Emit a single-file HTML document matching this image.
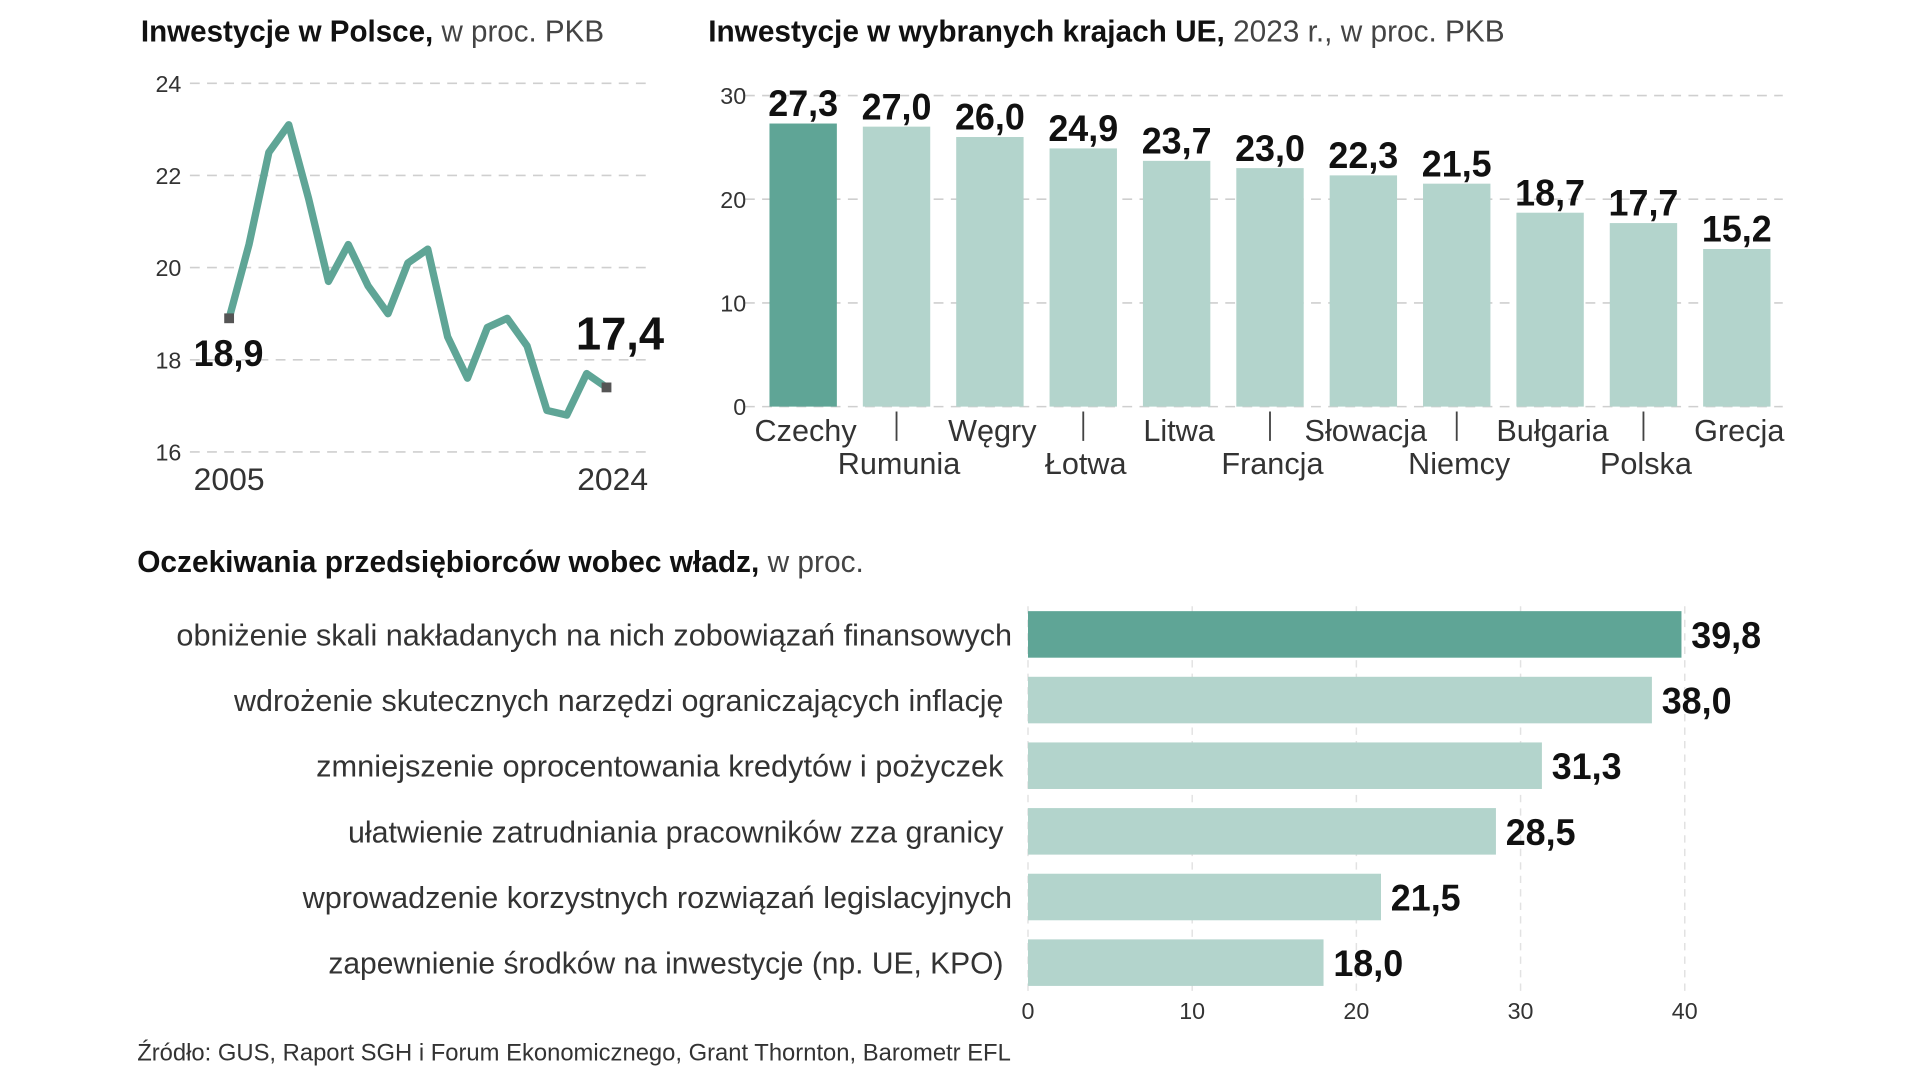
<!DOCTYPE html>
<html><head><meta charset="utf-8"><style>
html,body{margin:0;padding:0;background:#fff;}
svg{display:block;font-family:"Liberation Sans Narrow","Liberation Sans",sans-serif;}
</style></head><body>
<svg id="c" width="1920" height="1079" viewBox="0 0 1567 881" preserveAspectRatio="none" xmlns="http://www.w3.org/2000/svg"></svg>
<script>
// ---- line chart data ----
const lineYears = [2005,2006,2007,2008,2009,2010,2011,2012,2013,2014,2015,2016,2017,2018,2019,2020,2021,2022,2023,2024];
const lineValues = [18.9,20.5,22.5,23.1,21.5,19.7,20.5,19.6,19.0,20.1,20.4,18.5,17.6,18.7,18.9,18.3,16.9,16.8,17.7,17.4];
const lineTicks = [16,18,20,22,24];
// ---- EU bar chart data ----
const euCountries = ["Czechy","Rumunia","Węgry","Łotwa","Litwa","Francja","Słowacja","Niemcy","Bułgaria","Polska","Grecja"];
const euValues = [27.3,27.0,26.0,24.9,23.7,23.0,22.3,21.5,18.7,17.7,15.2];
const euLabels = ["27,3","27,0","26,0","24,9","23,7","23,0","22,3","21,5","18,7","17,7","15,2"];
const euTicks = [0,10,20,30];
// ---- expectations bar chart data ----
const expCategories = ["obniżenie skali nakładanych na nich zobowiązań finansowych","wdrożenie skutecznych narzędzi ograniczających inflację","zmniejszenie oprocentowania kredytów i pożyczek","ułatwienie zatrudniania pracowników zza granicy","wprowadzenie korzystnych rozwiązań legislacyjnych","zapewnienie środków na inwestycje (np. UE, KPO)"];
const expValues = [39.8,38.0,31.3,28.5,21.5,18.0];
const expLabels = ["39,8","38,0","31,3","28,5","21,5","18,0"];
const expTicks = [0,10,20,30,40];

const svg = document.getElementById('c');
const NS = 'http://www.w3.org/2000/svg';
function el(tag, attrs, parent){ const e=document.createElementNS(NS,tag); for(const k in attrs) e.setAttribute(k,attrs[k]); (parent||svg).appendChild(e); return e; }
function txt(s, attrs, parent){ const e=el('text',attrs,parent); e.textContent=s; return e; }
const DARK='#5fa596', LIGHT='#b3d4cc', GRID='#cfcfcf';

// titles
let t = el('text',{x:115,y:34,'font-size':25,fill:'#111',textLength:378,lengthAdjust:'spacingAndGlyphs'});
 
t.innerHTML='<tspan font-weight="bold">Inwestycje w Polsce,</tspan><tspan fill="#444"> w proc. PKB</tspan>';
t = el('text',{x:578,y:34,'font-size':25,fill:'#111',textLength:650,lengthAdjust:'spacingAndGlyphs'});
 
t.innerHTML='<tspan font-weight="bold">Inwestycje w wybranych krajach UE,</tspan><tspan fill="#444"> 2023 r., w proc. PKB</tspan>';
t = el('text',{x:112,y:467,'font-size':25,fill:'#111',textLength:593,lengthAdjust:'spacingAndGlyphs'});
 
t.innerHTML='<tspan font-weight="bold">Oczekiwania przedsiębiorców wobec władz,</tspan><tspan fill="#444"> w proc.</tspan>';

// ---- line chart ----
const ly = v => 369 - (v-16)*(369-68)/8;
const lx = i => 187 + i*(495-187)/(lineYears.length-1);
const lg = el('g',{});  
lineTicks.forEach(v=>{
  const l=el('line',{x1:155,x2:532,y1:ly(v),y2:ly(v),stroke:GRID,'stroke-width':1.3,'stroke-dasharray':'8 6'},lg);
   
  const tt=txt(String(v),{x:148,y:ly(v)+7,'font-size':19,fill:'#333','text-anchor':'end'},lg);
   
});
const pl=el('polyline',{points:lineValues.map((v,i)=>lx(i)+','+ly(v)).join(' '),fill:'none',stroke:DARK,'stroke-width':6,'stroke-linejoin':'round'},lg);
 
[0,lineValues.length-1].forEach(i=>{
  const r=el('rect',{x:lx(i)-4,y:ly(lineValues[i])-4,width:8,height:8,fill:'#555'},lg);
   
});
t=txt(lineValues[0].toFixed(1).replace('.',','),{x:158,y:ly(lineValues[0])+39,'font-size':30,'font-weight':'bold',fill:'#111',textLength:57,lengthAdjust:'spacingAndGlyphs'},lg);
 
const li=lineValues.length-1;
t=txt(lineValues[li].toFixed(1).replace('.',','),{x:470,y:ly(lineValues[li])-31,'font-size':38,'font-weight':'bold',fill:'#111',textLength:72,lengthAdjust:'spacingAndGlyphs'},lg);
 
t=txt(String(lineYears[0]),{x:lx(0),y:400,'font-size':26,fill:'#333','text-anchor':'middle'},lg);
 
t=txt(String(lineYears[li]),{x:lx(li)+5,y:400,'font-size':26,fill:'#333','text-anchor':'middle'},lg);
 

// ---- EU bar chart ----
const by = v => 332 - v*(332-78)/30;
const bx = i => 628 + i*76.2;
const bw = 55;
const bg = el('g',{});  
euTicks.forEach(v=>{
  const l=el('line',{x1:608,x2:1455,y1:by(v),y2:by(v),stroke:GRID,'stroke-width':1.3,'stroke-dasharray':'8 6'},bg);
   
  const tt=txt(String(v),{x:609,y:by(v)+7,'font-size':19,fill:'#333','text-anchor':'end'},bg);
   
});
euValues.forEach((v,i)=>{
  const r=el('rect',{x:bx(i),y:by(v),width:bw,height:by(0)-by(v),fill:i===0?DARK:LIGHT},bg);
   
  const vl=txt(euLabels[i],{x:bx(i)+bw/2,y:by(v)-6,'font-size':30,'font-weight':'bold',fill:'#111','text-anchor':'middle',textLength:57,lengthAdjust:'spacingAndGlyphs'},bg);
   
  const row = i%2===0 ? 360 : 387;
  const cl=txt(euCountries[i],{x:bx(i)+bw/2+2,y:row,'font-size':25,fill:'#333','text-anchor':'middle'},bg);
   
  if(i%2===1){
    const s=el('line',{x1:bx(i)+bw/2,x2:bx(i)+bw/2,y1:336,y2:360,stroke:'#444','stroke-width':1.5},bg);
     
  }
});

// ---- expectations bar chart ----
const ex = v => 839 + v*(1375-839)/40;
const eyTop = i => 499 + i*53.6;
const eh = 38;
const labelWidths = [682,628,561,535,579,551];
const labelRight = [826,819,819,819,826,819];
const eg = el('g',{});  
expTicks.forEach(v=>{
  const l=el('line',{x1:ex(v),x2:ex(v),y1:495,y2:810,stroke:'#e2e2e2','stroke-width':1.2,'stroke-dasharray':'6 5'},eg);
   
  const tt=txt(String(v),{x:ex(v),y:832,'font-size':19,fill:'#333','text-anchor':'middle'},eg);
   
});
expValues.forEach((v,i)=>{
  const r=el('rect',{x:ex(0),y:eyTop(i),width:ex(v)-ex(0),height:eh,fill:i===0?DARK:LIGHT},eg);
   
  const vl=txt(expLabels[i],{x:ex(v)+8,y:eyTop(i)+eh/2+11,'font-size':30,'font-weight':'bold',fill:'#111',textLength:57,lengthAdjust:'spacingAndGlyphs'},eg);
   
  const cl=txt(expCategories[i],{x:labelRight[i],y:eyTop(i)+eh/2+9,'font-size':25,fill:'#333','text-anchor':'end',textLength:labelWidths[i],lengthAdjust:'spacingAndGlyphs'},eg);
   
});

t=txt('Źródło: GUS, Raport SGH i Forum Ekonomicznego, Grant Thornton, Barometr EFL',{x:112,y:866,'font-size':20,fill:'#333',textLength:713,lengthAdjust:'spacingAndGlyphs'});
 
</script>
</body></html>
